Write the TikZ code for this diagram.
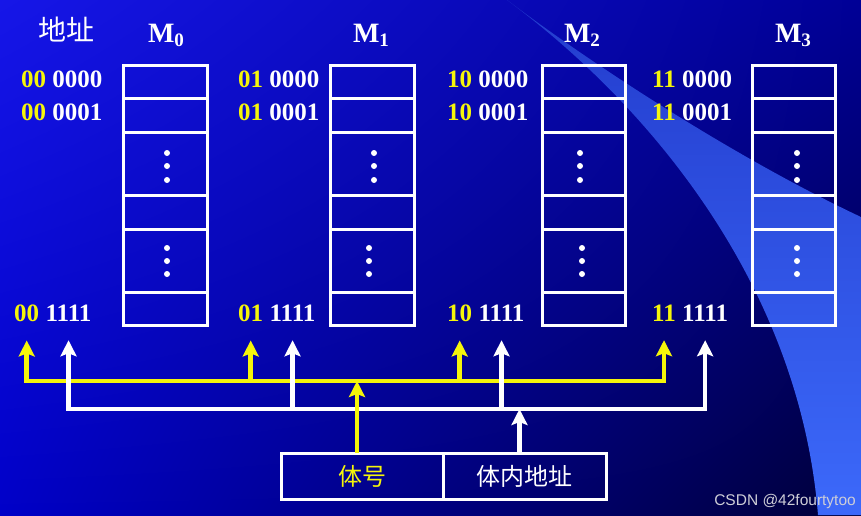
\documentclass[tikz,border=0pt]{standalone}
\usepackage{fontspec}
\setmainfont{Liberation Serif}
\newfontfamily\cjk{Noto Sans CJK SC}
\newfontfamily\markfont{Liberation Sans}
\usetikzlibrary{positioning,arrows.meta,shadings}
\definecolor{bgUL}{RGB}{22,22,232}
\definecolor{bgUR}{RGB}{0,0,150}
\definecolor{bgLL}{RGB}{0,0,200}
\definecolor{bgLR}{RGB}{0,0,55}
\definecolor{swTop}{RGB}{35,60,205}
\definecolor{swBot}{RGB}{60,105,250}
\definecolor{bankYellow}{RGB}{245,245,10}
\tikzstyle{addr}=[inner sep=0pt, text=white, font=\fontsize{25}{28}\selectfont\bfseries]
\tikzstyle{bankname}=[inner sep=0pt, anchor=base, text=white, font=\fontsize{28}{30}\selectfont\bfseries]
\tikzstyle{cell}=[draw=white, line width=3pt]
\tikzstyle{field}=[draw=white, line width=3pt, outer sep=0pt, minimum height=46pt, font=\cjk\fontsize{24}{26}\selectfont]
\tikzstyle{yline}=[draw=bankYellow, line width=4.5pt]
\tikzstyle{wline}=[draw=white, line width=4.5pt]
\newcommand{\sub}[1]{\raisebox{-4pt}{\fontsize{19}{19}\selectfont #1}}

\begin{document}
\begin{tikzpicture}[x=1pt, y=-1pt, >={Stealth[length=16pt, width=16pt, inset=3pt]}]
% Background
    \useasboundingbox (0,0) rectangle (861,515);
    \shade[upper left=bgUL, upper right=bgUR, lower left=bgLL, lower right=bgLR] (0,0) rectangle (861,515);
    \shade[top color=swTop, bottom color=swBot] (507,0) .. controls (600,70) and (740,160) .. (861,217)
        -- (861,515) -- (818,515) .. controls (800,290) and (655,110) .. (507,0) -- cycle;
% Titles
    \node[text=white, font=\cjk\fontsize{28}{30}\selectfont] (addrtitle) at (66,30) {地址};
    \node[bankname] (m0) at (166,42) {M\sub{0}};
    \node[bankname] (m1) at (371,42) {M\sub{1}};
    \node[bankname] (m2) at (582,42) {M\sub{2}};
    \node[bankname] (m3) at (793,42) {M\sub{3}};
% Bank M0
    \draw[cell] (123,65) rectangle (207,325);
    \draw[cell] (123,98) -- (207,98) (123,132) -- (207,132) (123,195) -- (207,195) (123,229) -- (207,229) (123,292) -- (207,292);
    \fill[white] (167,153) circle(3) (167,166) circle(3) (167,180) circle(3) (167,248) circle(3) (167,261) circle(3) (167,274) circle(3);
% Bank M1
    \draw[cell] (330,65) rectangle (414,325);
    \draw[cell] (330,98) -- (414,98) (330,132) -- (414,132) (330,195) -- (414,195) (330,229) -- (414,229) (330,292) -- (414,292);
    \fill[white] (374,153) circle(3) (374,166) circle(3) (374,180) circle(3) (369,248) circle(3) (369,261) circle(3) (369,274) circle(3);
% Bank M2
    \draw[cell] (542,65) rectangle (625,325);
    \draw[cell] (542,98) -- (625,98) (542,132) -- (625,132) (542,195) -- (625,195) (542,229) -- (625,229) (542,292) -- (625,292);
    \fill[white] (580,153) circle(3) (580,166) circle(3) (580,180) circle(3) (582,248) circle(3) (582,261) circle(3) (582,274) circle(3);
% Bank M3
    \draw[cell] (752,65) rectangle (835,325);
    \draw[cell] (752,98) -- (835,98) (752,132) -- (835,132) (752,195) -- (835,195) (752,229) -- (835,229) (752,292) -- (835,292);
    \fill[white] (797,153) circle(3) (797,166) circle(3) (797,180) circle(3) (797,248) circle(3) (797,261) circle(3) (797,274) circle(3);
% Addresses, first two words of each bank
    \node[addr, anchor=base west] (a00) at (21,87) {\textcolor{bankYellow}{00} 0000};
    \node[addr, anchor=base west] (a01) at (21,120) {\textcolor{bankYellow}{00} 0001};
    \node[addr, anchor=base west] (a10) at (238,87) {\textcolor{bankYellow}{01} 0000};
    \node[addr, anchor=base west] (a11) at (238,120) {\textcolor{bankYellow}{01} 0001};
    \node[addr, anchor=base west] (a20) at (447,87) {\textcolor{bankYellow}{10} 0000};
    \node[addr, anchor=base west] (a21) at (447,120) {\textcolor{bankYellow}{10} 0001};
    \node[addr, anchor=base west] (a30) at (652,87) {\textcolor{bankYellow}{11} 0000};
    \node[addr, anchor=base west] (a31) at (652,120) {\textcolor{bankYellow}{11} 0001};
% Last word: bank number and offset
    \node[addr, anchor=base west, text=bankYellow] (p0) at (14,321) {00};
    \node[addr, right=6pt of p0] (o0) {1111};
    \node[addr, anchor=base west, text=bankYellow] (p1) at (238,321) {01};
    \node[addr, right=6pt of p1] (o1) {1111};
    \node[addr, anchor=base west, text=bankYellow] (p2) at (447,321) {10};
    \node[addr, right=6pt of p2] (o2) {1111};
    \node[addr, anchor=base west, text=bankYellow] (p3) at (652,321) {11};
    \node[addr, right=6pt of p3] (o3) {1111};
% Address register
    \node[field, minimum width=162pt, text=bankYellow] (bank) at (362,476) {体号};
    \node[field, minimum width=163pt, text=white, right=0pt of bank] (offset) {体内地址};
% Arrow tips under the last word
    \coordinate[below=19pt of p0] (tp0);
    \coordinate[below=19pt of p1] (tp1);
    \coordinate[below=19pt of p2] (tp2);
    \coordinate[below=19pt of p3] (tp3);
    \coordinate[below=19pt of o0] (to0);
    \coordinate[below=19pt of o1] (to1);
    \coordinate[below=19pt of o2] (to2);
    \coordinate[below=19pt of o3] (to3);
    \coordinate (ybus) at (0,381);
    \coordinate (wbus) at (0,409);
% Bank number bus
    \draw[yline, <->] (tp0) -- (tp0 |- ybus) -- (tp3 |- ybus) -- (tp3);
    \draw[yline, ->] (tp1 |- ybus) -- (tp1);
    \draw[yline, ->] (tp2 |- ybus) -- (tp2);
% Offset bus
    \draw[wline, <->] (to0) -- (to0 |- wbus) -- (to3 |- wbus) -- (to3);
    \draw[wline, ->] (to1 |- wbus) -- (to1);
    \draw[wline, ->] (to2 |- wbus) -- (to2);
% From the register
    \draw[yline, ->] ([xshift=-5pt]bank.north) -- ([xshift=-5pt]bank.north |- ybus);
    \draw[wline, ->] ([xshift=-5pt]offset.north) -- ([xshift=-5pt]offset.north |- wbus);
% Watermark
    \node[anchor=base east, inner sep=0pt, text={rgb,255:red,205;green,205;blue,215}, font=\markfont\fontsize{15.5}{17}\selectfont] (mark) at (856,505) {CSDN @42fourtytoo};
\end{tikzpicture}
\end{document}
